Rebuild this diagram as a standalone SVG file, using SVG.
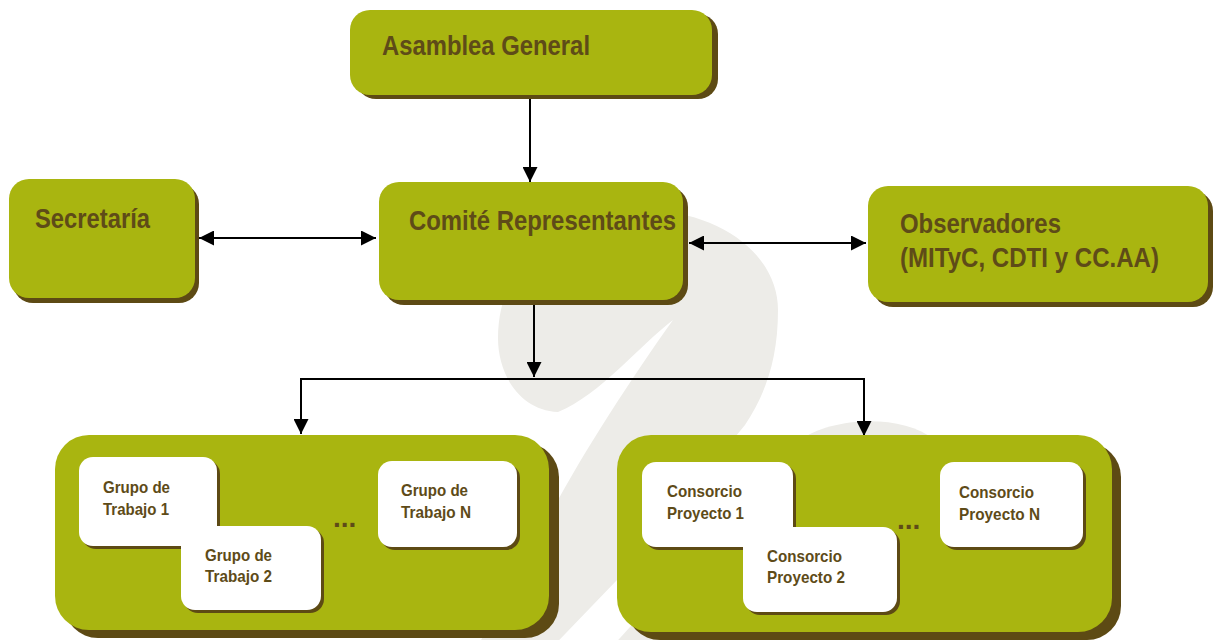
<svg xmlns="http://www.w3.org/2000/svg" width="1213" height="640" viewBox="0 0 1213 640">
<style>
.g{fill:#A9B510}
.sh{fill:#5D4A14}
.w{fill:#FFFFFF}
.t{font-family:"Liberation Sans",Arial,Helvetica,sans-serif;font-weight:bold;fill:#5E4B18}
.big{font-size:28px}
.sm{font-size:17px}
.conn{stroke:#000;stroke-width:2;fill:none}
.wm{fill:#EDECE8}
</style>
<defs>
<marker id="ah" viewBox="0 0 15 15" refX="15" refY="7.5" markerWidth="15" markerHeight="15" markerUnits="userSpaceOnUse" orient="auto-start-reverse">
<path d="M0,0 L15,7.5 L0,15 Z" fill="#000"/>
</marker>
</defs>
<rect width="1213" height="640" fill="#FFFFFF"/>
<g id="watermark">
<path class="wm" d="M673,320 C640,345 600,395 558,412 C520,410 498,375 498,338 C498,265 555,212 635,210 C720,208 778,255 778,310 C778,360 765,395 745,425 L617,580 L540,660 L470,660 L545,525 C575,465 630,380 673,320 Z"/>
<path class="wm" d="M800,440 C830,418 900,412 935,440 L990,640 L600,660 Z"/>
</g>
<g id="connectors">
<line class="conn" x1="530" y1="99" x2="530" y2="182" marker-end="url(#ah)"/>
<line class="conn" x1="199" y1="238" x2="376" y2="238" marker-start="url(#ah)" marker-end="url(#ah)"/>
<line class="conn" x1="689" y1="243" x2="866" y2="243" marker-start="url(#ah)" marker-end="url(#ah)"/>
<line class="conn" x1="534" y1="305" x2="534" y2="377" marker-end="url(#ah)"/>
<polyline class="conn" points="301,434 301,379 864,379 864,436"/>
<line class="conn" x1="301" y1="379" x2="301" y2="434" marker-end="url(#ah)"/>
<line class="conn" x1="864" y1="379" x2="864" y2="436" marker-end="url(#ah)"/>
</g>
<g id="asamblea">
<rect class="sh" x="356" y="14" width="362" height="85" rx="20"/>
<rect class="g" x="350" y="10" width="362" height="85" rx="20"/>
<text class="t big" x="382" y="55" textLength="208" lengthAdjust="spacingAndGlyphs">Asamblea General</text>
</g>
<g id="secretaria">
<rect class="sh" x="13" y="184" width="186" height="119" rx="20"/>
<rect class="g" x="9" y="179" width="186" height="119" rx="20"/>
<text class="t big" x="35" y="228" textLength="115" lengthAdjust="spacingAndGlyphs">Secretaría</text>
</g>
<g id="comite">
<rect class="sh" x="384" y="187" width="304" height="118" rx="20"/>
<rect class="g" x="379" y="182" width="304" height="118" rx="20"/>
<text class="t big" x="409" y="230" textLength="267" lengthAdjust="spacingAndGlyphs">Comité Representantes</text>
</g>
<g id="observadores">
<rect class="sh" x="873" y="191" width="340" height="116" rx="20"/>
<rect class="g" x="868" y="186" width="340" height="116" rx="20"/>
<text class="t big" x="900" y="233" textLength="161" lengthAdjust="spacingAndGlyphs">Observadores</text>
<text class="t big" x="900" y="267" textLength="259" lengthAdjust="spacingAndGlyphs">(MITyC, CDTI y CC.AA)</text>
</g>
<g id="grupos">
<rect class="sh" x="64" y="443" width="495" height="195" rx="34"/>
<rect class="g" x="55" y="435" width="494" height="195" rx="34"/>
<g id="grupo1">
<rect class="sh" x="82" y="460" width="138" height="89" rx="14"/>
<rect class="w" x="79" y="457" width="138" height="89" rx="14"/>
<text class="t sm" x="103" y="493" textLength="67" lengthAdjust="spacingAndGlyphs">Grupo de</text>
<text class="t sm" x="103" y="515" textLength="66" lengthAdjust="spacingAndGlyphs">Trabajo 1</text>
</g>
<g id="grupo2">
<rect class="sh" x="184" y="529" width="140" height="84" rx="14"/>
<rect class="w" x="181" y="526" width="140" height="84" rx="14"/>
<text class="t sm" x="205" y="561" textLength="67" lengthAdjust="spacingAndGlyphs">Grupo de</text>
<text class="t sm" x="205" y="582" textLength="67" lengthAdjust="spacingAndGlyphs">Trabajo 2</text>
</g>
<g id="grupoN">
<rect class="sh" x="381" y="464" width="139" height="86" rx="14"/>
<rect class="w" x="378" y="461" width="139" height="86" rx="14"/>
<text class="t sm" x="401" y="496" textLength="67" lengthAdjust="spacingAndGlyphs">Grupo de</text>
<text class="t sm" x="401" y="518" textLength="70" lengthAdjust="spacingAndGlyphs">Trabajo N</text>
</g>
<text class="t" x="333" y="527" font-size="28">...</text>
</g>
<g id="consorcios">
<rect class="sh" x="626" y="443" width="495" height="197" rx="34"/>
<rect class="g" x="617" y="435" width="495" height="197" rx="34"/>
<g id="consorcio1">
<rect class="sh" x="645" y="465" width="151" height="85" rx="14"/>
<rect class="w" x="642" y="462" width="151" height="85" rx="14"/>
<text class="t sm" x="667" y="497" textLength="75" lengthAdjust="spacingAndGlyphs">Consorcio</text>
<text class="t sm" x="667" y="519" textLength="77" lengthAdjust="spacingAndGlyphs">Proyecto 1</text>
</g>
<g id="consorcio2">
<rect class="sh" x="746" y="530" width="154" height="85" rx="14"/>
<rect class="w" x="743" y="527" width="154" height="85" rx="14"/>
<text class="t sm" x="767" y="562" textLength="75" lengthAdjust="spacingAndGlyphs">Consorcio</text>
<text class="t sm" x="767" y="583" textLength="78" lengthAdjust="spacingAndGlyphs">Proyecto 2</text>
</g>
<g id="consorcioN">
<rect class="sh" x="943" y="465" width="143" height="85" rx="14"/>
<rect class="w" x="940" y="462" width="143" height="85" rx="14"/>
<text class="t sm" x="959" y="498" textLength="75" lengthAdjust="spacingAndGlyphs">Consorcio</text>
<text class="t sm" x="959" y="520" textLength="81" lengthAdjust="spacingAndGlyphs">Proyecto N</text>
</g>
<text class="t" x="897" y="529" font-size="28">...</text>
</g>
</svg>
